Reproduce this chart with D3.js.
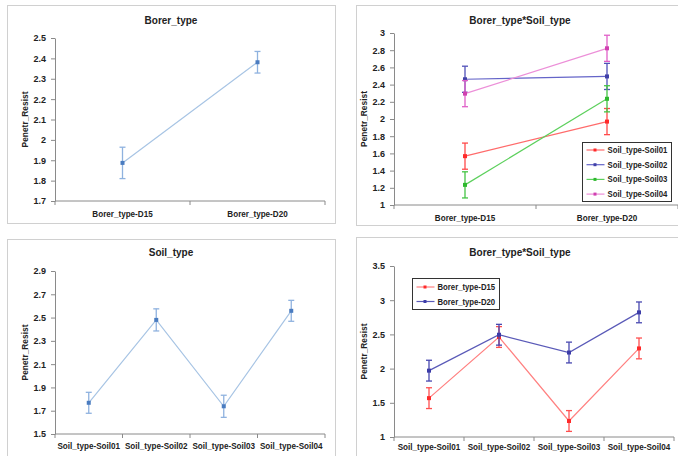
<!DOCTYPE html>
<html><head><meta charset="utf-8">
<script src="https://cdn.jsdelivr.net/npm/d3@7"></script>
<style>body{margin:0;background:#fff}svg{display:block}text{font-family:"Liberation Sans",Arial,sans-serif;font-weight:bold;fill:#222}</style>
</head><body>
<svg id="c" width="678" height="456"></svg>
<script>
// ---- data ----
const borerCats = ["Borer_type-D15", "Borer_type-D20"];
const soilCats = ["Soil_type-Soil01", "Soil_type-Soil02", "Soil_type-Soil03", "Soil_type-Soil04"];
const borerMean = [1.887, 2.381];
const borerErr = [0.077, 0.053];
const soilMean = [1.768, 2.48, 1.738, 2.558];
const soilErr = [0.09, 0.095, 0.095, 0.09];
const soil01 = [1.568, 1.97];
const soil02 = [2.462, 2.495];
const soil03 = [1.234, 2.235];
const soil04 = [2.295, 2.822];
const interErr = 0.152;
const d15 = [1.568, 2.462, 1.234, 2.295];
const d20 = [1.97, 2.495, 2.235, 2.822];
const ticks1 = [1.7, 1.8, 1.9, 2, 2.1, 2.2, 2.3, 2.4, 2.5];
const ticks2 = [1, 1.2, 1.4, 1.6, 1.8, 2, 2.2, 2.4, 2.6, 2.8, 3];
const ticks3 = [1.5, 1.7, 1.9, 2.1, 2.3, 2.5, 2.7, 2.9];
const ticks4 = [1, 1.5, 2, 2.5, 3, 3.5];

const svg = d3.select("#c");

function squeeze(sel, k) {
  sel.each(function () {
    const L = this.getComputedTextLength();
    d3.select(this).attr("textLength", L * k).attr("lengthAdjust", "spacingAndGlyphs");
  });
}

function panel(o) {
  const g = svg.append("g");
  g.append("rect").attr("x", o.bx).attr("y", o.by).attr("width", o.bw).attr("height", o.bh)
    .attr("fill", "#fff").attr("stroke", "#d0d0d0").attr("stroke-width", 1);
  squeeze(g.append("text").attr("x", o.tx).attr("y", o.ty).attr("text-anchor", "middle")
    .attr("font-size", 11).text(o.title), 0.91);
  const y = d3.scaleLinear().domain(o.domain).range([o.py1, o.py0]);
  const x = d3.scaleBand().domain(o.cats).range([o.px0, o.px1]);
  const ya = d3.axisLeft(y).tickValues(o.ticks).tickSize(4).tickSizeOuter(0).tickFormat(d3.format("~g"));
  const yg = g.append("g").attr("transform", `translate(${o.px0},0)`).call(ya);
  yg.select(".domain").attr("stroke", "#8a8a8a");
  yg.selectAll(".tick line").attr("stroke", "#8a8a8a");
  yg.selectAll(".tick text").attr("font-size", 9).attr("x", -9).attr("fill", "#222").style("font-family", null);
  yg.attr("font-family", null).attr("font-size", null);
  // x axis
  const xg = g.append("g").attr("transform", `translate(0,${o.py1})`);
  xg.append("line").attr("x1", o.px0).attr("x2", o.px1).attr("stroke", "#8a8a8a");
  const bounds = o.cats.map((c) => x(c)).concat([o.px1]);
  xg.selectAll("line.t").data(bounds).join("line").attr("class", "t")
    .attr("x1", d => d).attr("x2", d => d).attr("y1", 0).attr("y2", 4).attr("stroke", "#8a8a8a");
  squeeze(xg.selectAll("text").data(o.cats).join("text")
    .attr("x", d => x(d) + x.bandwidth() / 2).attr("y", o.lblY).attr("text-anchor", "middle")
    .attr("font-size", 9).text(d => d), 0.9);
  // y label
  squeeze(g.append("text").attr("transform", `translate(${o.px0 - 27},${(o.py0 + o.py1) / 2}) rotate(-90)`)
    .attr("text-anchor", "middle").attr("font-size", 9).text("Penetr_Resist"), 0.93);
  // series
  o.series.forEach(s => {
    const pts = s.vals.map((v, i) => [x(o.cats[i]) + x.bandwidth() / 2, v, s.err[i]]);
    g.append("path").attr("d", d3.line().x(d => d[0]).y(d => y(d[1]))(pts))
      .attr("fill", "none").attr("stroke", s.line).attr("stroke-width", 1.2);
    pts.forEach(p => {
      const cx = p[0], t = y(p[1] + p[2]), b = y(p[1] - p[2]);
      g.append("line").attr("x1", cx).attr("x2", cx).attr("y1", t).attr("y2", b).attr("stroke", s.errc).attr("stroke-width", 1.3);
      g.append("line").attr("x1", cx - 3).attr("x2", cx + 3).attr("y1", t).attr("y2", t).attr("stroke", s.errc).attr("stroke-width", 1.3);
      g.append("line").attr("x1", cx - 3).attr("x2", cx + 3).attr("y1", b).attr("y2", b).attr("stroke", s.errc).attr("stroke-width", 1.3);
      g.append("rect").attr("x", cx - 2).attr("y", y(p[1]) - 2).attr("width", 4).attr("height", 4).attr("fill", s.mark);
    });
  });
  if (o.legend) {
    const L = o.legend;
    g.append("rect").attr("x", L.x).attr("y", L.y).attr("width", L.w).attr("height", L.h)
      .attr("fill", "#fff").attr("stroke", "#333").attr("stroke-width", 1);
    o.series.forEach((s, i) => {
      const yy = L.y + L.pad + i * L.step;
      g.append("line").attr("x1", L.x + 4).attr("x2", L.x + 22).attr("y1", yy).attr("y2", yy).attr("stroke", s.line).attr("stroke-width", 1.2);
      g.append("rect").attr("x", L.x + 11).attr("y", yy - 1.5).attr("width", 3).attr("height", 3).attr("fill", s.mark);
      squeeze(g.append("text").attr("x", L.x + 25).attr("y", yy + 3).attr("font-size", 9).text(s.name), 0.86);
    });
  }
}

const lb = { line: "#a7c4e4", errc: "#8fb2df", mark: "#4a7cc0" };

panel({
  bx: 7.5, by: 5.5, bw: 328, bh: 218, title: "Borer_type", tx: 171, ty: 24,
  px0: 55, px1: 325, py0: 38, py1: 201, domain: [1.7, 2.5], ticks: ticks1, cats: borerCats, lblY: 16,
  series: [Object.assign({ vals: borerMean, err: borerErr, name: "" }, lb)]
});
panel({
  bx: 7.5, by: 239.5, bw: 328, bh: 230, title: "Soil_type", tx: 171, ty: 256,
  px0: 55, px1: 325, py0: 271, py1: 434, domain: [1.5, 2.9], ticks: ticks3, cats: soilCats, lblY: 15,
  series: [Object.assign({ vals: soilMean, err: soilErr, name: "" }, lb)]
});
panel({
  bx: 356.5, by: 5.5, bw: 340, bh: 220, title: "Borer_type*Soil_type", tx: 520, ty: 24,
  px0: 394, px1: 678, py0: 33, py1: 205, domain: [1, 3], ticks: ticks2, cats: borerCats, lblY: 16,
  series: [
    { vals: soil01, err: [interErr, interErr], name: "Soil_type-Soil01", line: "#ff6b6b", errc: "#ff4b4b", mark: "#ff2a2a" },
    { vals: soil02, err: [interErr, interErr], name: "Soil_type-Soil02", line: "#6464c8", errc: "#5050b8", mark: "#4040a8" },
    { vals: soil03, err: [interErr, interErr], name: "Soil_type-Soil03", line: "#5cd05c", errc: "#44c444", mark: "#2eb82e" },
    { vals: soil04, err: [interErr, interErr], name: "Soil_type-Soil04", line: "#ec8fd8", errc: "#e060c8", mark: "#d040b0" }
  ],
  legend: { x: 582.5, y: 142.5, w: 89, h: 59, pad: 7.5, step: 14.7 }
});
panel({
  bx: 356.5, by: 237.5, bw: 340, bh: 230, title: "Borer_type*Soil_type", tx: 520, ty: 256,
  px0: 394, px1: 674, py0: 266, py1: 437, domain: [1, 3.5], ticks: ticks4, cats: soilCats, lblY: 13,
  series: [
    { vals: d15, err: [interErr, interErr, interErr, interErr], name: "Borer_type-D15", line: "#ff8080", errc: "#ff5050", mark: "#ff2a2a" },
    { vals: d20, err: [interErr, interErr, interErr, interErr], name: "Borer_type-D20", line: "#5a5ab8", errc: "#4848b0", mark: "#3c3ca8" }
  ],
  legend: { x: 412.5, y: 278.5, w: 87, h: 31, pad: 8.5, step: 14.5 }
});
</script>
</body></html>
